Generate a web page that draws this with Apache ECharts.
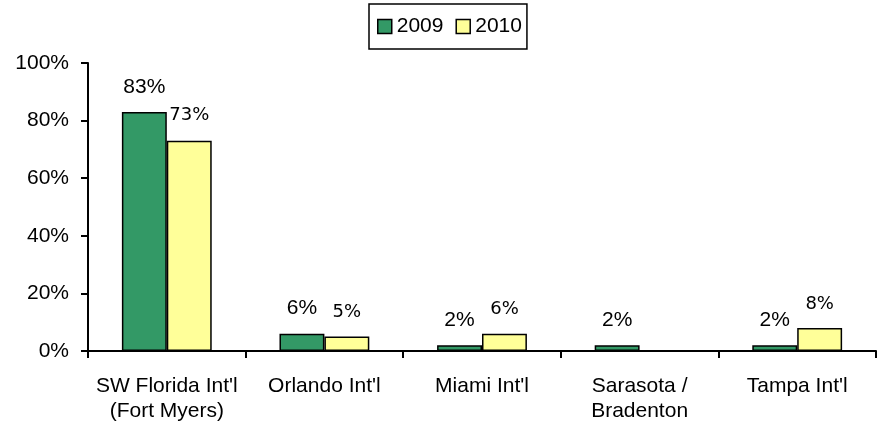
<!DOCTYPE html>
<html>
<head>
<meta charset="utf-8">
<script src="https://cdn.jsdelivr.net/npm/echarts@6/dist/echarts.min.js"></script>
<style>
  html, body { margin: 0; padding: 0; background: #fff; }
  #chart { width: 881px; height: 426px; }
</style>
</head>
<body>
<div id="chart"></div>
<script>
// airports (x axis)
const airports = ['SW Florida Int\'l\n(Fort Myers)', 'Orlando Int\'l', 'Miami Int\'l', 'Sarasota /\nBradenton', 'Tampa Int\'l']
// share of passengers, %
const share2009 = [83, 6, 2, 2, 2]
const share2010 = [73, 5, 6, 0, 8]
const yTicks = [0, 20, 40, 60, 80, 100]

const chart = echarts.init(document.getElementById('chart'))

// labels sit a bit higher on small bars, like the original
function toData(values, bigDist, smallDist) {
  return values.map(v => ({
    value: v,
    label: { show: v > 0, distance: v > 50 ? bigDist : smallDist }
  }))
}

chart.setOption({
  animation: false,
  textStyle: { fontFamily: 'Liberation Sans, Arial, sans-serif' },
  legend: {
    left: 369,
    top: 4,
    padding: [12, 5, 12, 8],
    borderColor: '#000',
    borderWidth: 1.5,
    itemWidth: 14,
    itemHeight: 14,
    itemGap: 12,
    textStyle: { fontSize: 21, color: '#000', fontFamily: 'Liberation Sans, Arial, sans-serif' },
    data: [
      { name: '2009', icon: 'rect', itemStyle: { borderColor: '#000', borderWidth: 1.5 } },
      { name: '2010', icon: 'rect', itemStyle: { borderColor: '#000', borderWidth: 1.5 } }
    ]
  },
  grid: { left: 88, right: 5, top: 63, bottom: 75, containLabel: false },
  xAxis: {
    type: 'category',
    data: airports,
    axisLine: { lineStyle: { color: '#000', width: 2 } },
    axisTick: { show: true, length: 7, lineStyle: { color: '#000', width: 2 } },
    axisLabel: { color: '#000', fontSize: 21, lineHeight: 25, margin: 23, interval: 0 }
  },
  yAxis: {
    type: 'value',
    min: yTicks[0],
    max: yTicks[yTicks.length - 1],
    interval: 20,
    axisLine: { show: true, lineStyle: { color: '#000', width: 2 } },
    axisTick: { show: true, length: 7, lineStyle: { color: '#000', width: 2 } },
    splitLine: { show: false },
    axisLabel: { color: '#000', fontSize: 21, margin: 19, formatter: '{value}%' }
  },
  series: [
    {
      name: '2009',
      type: 'bar',
      barWidth: '28.5%',
      barGap: '0%',
      itemStyle: { color: '#339966', borderColor: '#000', borderWidth: 1.5 },
      label: {
        position: 'top',
        color: '#000',
        fontSize: 21,
        fontFamily: 'Liberation Sans, Arial, sans-serif',
        formatter: '{c}%'
      },
      data: toData(share2009, 14, 15)
    },
    {
      name: '2010',
      type: 'bar',
      barWidth: '28.5%',
      itemStyle: { color: '#FFFF99', borderColor: '#000', borderWidth: 1.5 },
      label: {
        position: 'top',
        color: '#000',
        fontSize: 18,
        fontFamily: 'DejaVu Sans, sans-serif',
        formatter: '{c}%'
      },
      data: toData(share2010, 16, 15)
    }
  ]
})
</script>
</body>
</html>
